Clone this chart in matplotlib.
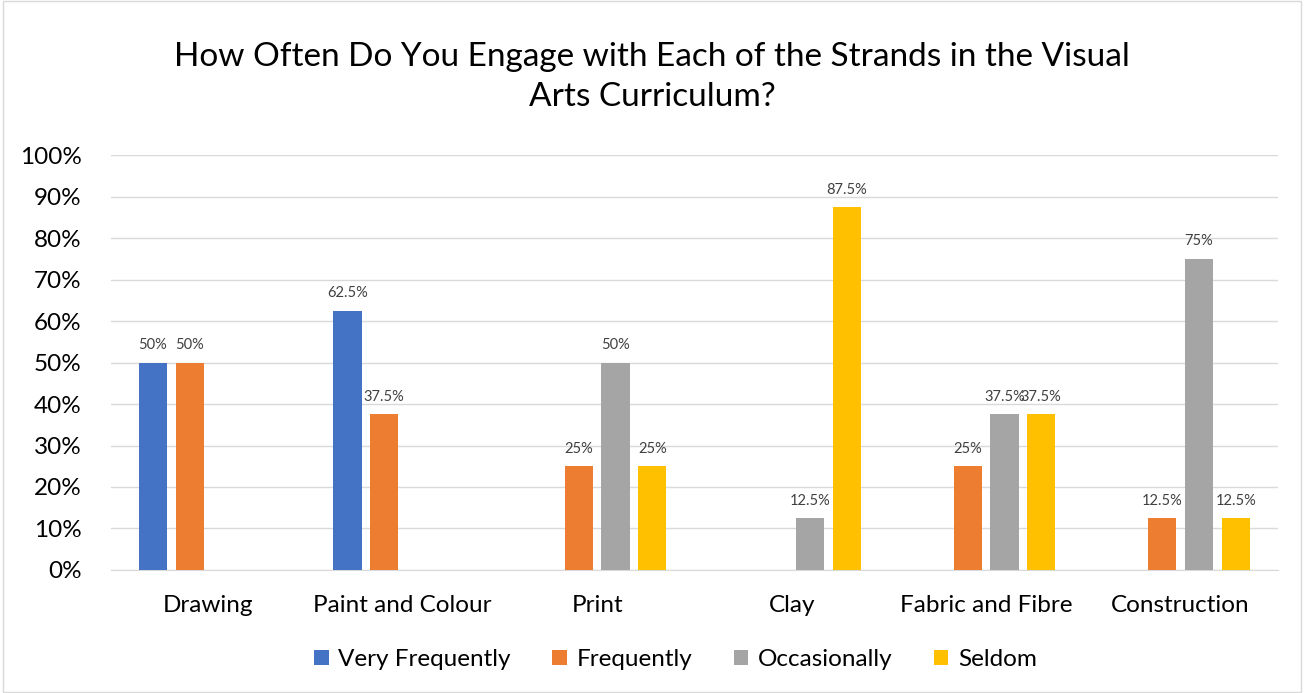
import numpy as np
import matplotlib.pyplot as plt

## Data
categories = ["Drawing", "Paint and Colour", "Print", "Clay", "Fabric and Fibre", "Construction"]
series_names = ["Very Frequently", "Frequently", "Occasionally", "Seldom"]
very_frequently = [50, 62.5, 0, 0, 0, 0]
frequently = [50, 37.5, 25, 0, 25, 12.5]
occasionally = [0, 0, 50, 12.5, 37.5, 75]
seldom = [0, 0, 25, 87.5, 37.5, 12.5]
colors = ["#4472C4", "#ED7D31", "#A5A5A5", "#FFC000"]

plt.rcParams['font.family'] = ['Lato', 'DejaVu Sans']

fig = plt.figure(figsize=(13.04, 6.93), dpi=100)
ax = fig.add_axes([0.085, 0.1775, 0.895, 0.5988])

# figure border
fig.patches.append(plt.Rectangle((0.002, 0.002), 0.996, 0.996, transform=fig.transFigure,
                                 fill=False, edgecolor="#D9D9D9", linewidth=1))

x = np.arange(len(categories))
width = 0.145
step = 0.189
all_series = [very_frequently, frequently, occasionally, seldom]

for i, (vals, name, col) in enumerate(zip(all_series, series_names, colors)):
    pos = x + (i - 1.5) * step
    bars = ax.bar(pos, vals, width, color=col, label=name, zorder=3)
    for b, v in zip(bars, vals):
        if v > 0:
            ax.text(b.get_x() + b.get_width() / 2, v + 2.5, f"{v:g}%",
                    ha="center", va="bottom", fontsize=10.5, color="#404040")

ax.set_xlim(-0.5, len(categories) - 0.5)
ax.set_ylim(0, 100)
ax.set_yticks(range(0, 101, 10))
ax.set_yticklabels([f"{t}%" for t in range(0, 101, 10)])
ax.set_xticks(x)
ax.set_xticklabels(categories)
ax.tick_params(axis="both", length=0, labelsize=17.5, colors="#000000")
ax.tick_params(axis="x", pad=18)
ax.tick_params(axis="y", pad=21)
ax.grid(axis="y", color="#D9D9D9", linewidth=1, zorder=0)
for s in ["top", "right", "left"]:
    ax.spines[s].set_visible(False)
ax.spines["bottom"].set_color("#D9D9D9")

fig.text(0.5, 0.889, "How Often Do You Engage with Each of the Strands in the Visual\nArts Curriculum?",
         ha="center", va="center", fontsize=24, linespacing=1.45)

fig.legend(loc="center", bbox_to_anchor=(0.518, 0.048), ncol=4, frameon=False,
           fontsize=17.5, handlelength=0.6, handleheight=0.6, handletextpad=0.4, columnspacing=1.7)

fig.savefig("out.png", dpi=100)
